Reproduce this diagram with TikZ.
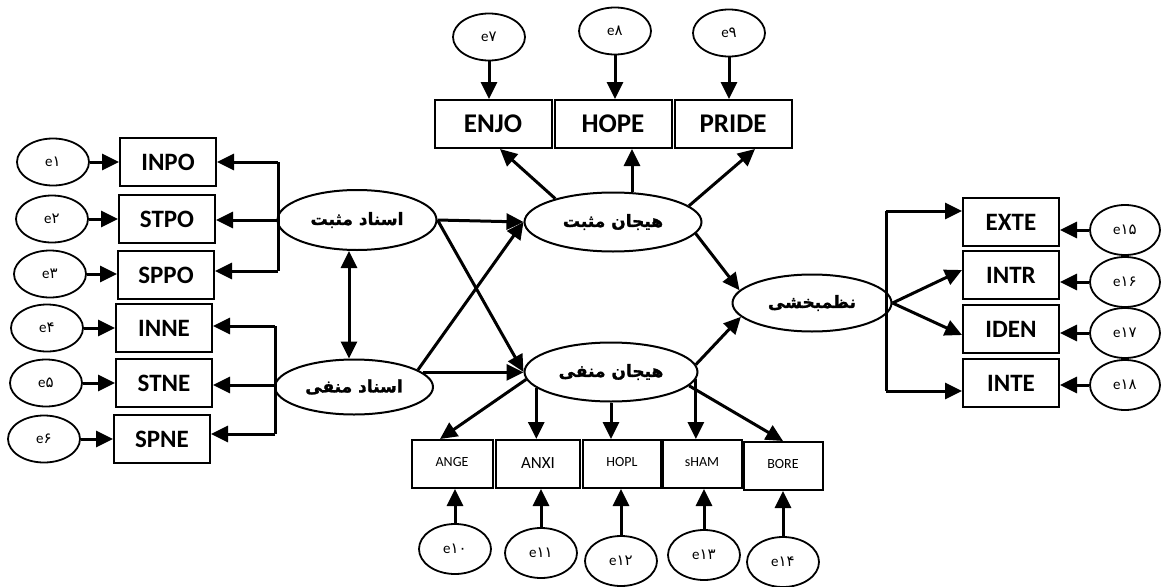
\documentclass[tikz,border=0pt]{standalone}
\usepackage{fontspec}
\setmainfont{Carlito}
\newfontfamily\fa[Script=Arabic,BoldFeatures={FakeBold=1.5}]{DejaVu Sans}
\newfontfamily\pdig{DejaVu Sans}
\TeXXeTstate=1
\usetikzlibrary{shapes.geometric,arrows.meta}
\newcommand\el[1]{e{\pdig #1}}
\newcommand\fatext[1]{{\fa\bfseries\beginR #1\endR}}
\begin{document}
\begin{tikzpicture}[x=1pt,y=-1pt,
  box/.style={draw,line width=2pt,minimum width=96pt,minimum height=48pt,inner sep=0pt,font=\fontsize{25}{27}\selectfont\bfseries},
  tbox/.style={box,minimum width=117pt,font=\fontsize{27}{29}\selectfont\bfseries},
  sbox/.style={draw,line width=2pt,minimum height=48pt,inner sep=0pt,font=\fontsize{14}{16}\selectfont},
  err/.style={draw,ellipse,line width=1.8pt,minimum width=72pt,minimum height=47pt,inner sep=0pt,font=\fontsize{15}{17}\selectfont},
  lat/.style={draw,ellipse,line width=2pt,inner sep=0pt,font=\fontsize{17}{19}\selectfont},
  arr/.style={-{Triangle[length=17pt,width=16pt]},line width=3pt},
  darr/.style={{Triangle[length=17pt,width=16pt]}-{Triangle[length=17pt,width=16pt]},line width=3pt},
  ln/.style={line width=3pt}]
\useasboundingbox (0,0) rectangle (1161,586);
% left errors
\node[err] (e1) at (53,162) {\el{۱}};
\node[err] (e2) at (52,219) {\el{۲}};
\node[err] (e3) at (50,274) {\el{۳}};
\node[err] (e4) at (47,328) {\el{۴}};
\node[err] (e5) at (46,383) {\el{۵}};
\node[err] (e6) at (44,439) {\el{۶}};
% left boxes
\node[box] (INPO) at (168,162) {INPO};
\node[box] (STPO) at (167,219) {STPO};
\node[box] (SPPO) at (166,275) {SPPO};
\node[box] (INNE) at (164,328) {INNE};
\node[box] (STNE) at (164,383) {STNE};
\node[box] (SPNE) at (162,439) {SPNE};
% latent
\node[lat,minimum width=159pt,minimum height=60pt] (am) at (357,220) {\fatext{اسناد مثبت}};
\node[lat,minimum width=158pt,minimum height=55pt] (an) at (354,387) {\fatext{اسناد منفی}};
\node[lat,minimum width=177pt,minimum height=59pt] (hm) at (613,222) {\fatext{هیجان مثبت}};
\node[lat,minimum width=173pt,minimum height=59pt] (hn) at (611,372) {\fatext{هیجان منفی}};
\node[lat,minimum width=159pt,minimum height=57pt] (nz) at (812,303) {\fatext{نظمبخشی}};
% top
\node[tbox] (ENJO) at (493,124) {ENJO};
\node[tbox] (HOPE) at (613,124) {HOPE};
\node[tbox] (PRIDE) at (733,124) {PRIDE};
\node[err] (e7) at (489,37) {\el{۷}};
\node[err] (e8) at (615,31) {\el{۸}};
\node[err] (e9) at (729,33) {\el{۹}};
% bottom
\node[sbox,minimum width=81pt] (ANGE) at (452,464) {\raisebox{4pt}{ANGE}};
\node[sbox,minimum width=84pt,font=\fontsize{17}{19}\selectfont] (ANXI) at (538,464) {\raisebox{2pt}{ANXI}};
\node[sbox,minimum width=78pt] (HOPL) at (622,464) {\raisebox{4pt}{HOPL}};
\node[sbox,minimum width=79pt] (sHAM) at (702,464) {\raisebox{4pt}{sHAM}};
\node[sbox,minimum width=79pt] (BORE) at (783,466) {\raisebox{4pt}{BORE}};
\node[err,minimum height=50pt] (e10) at (455,549) {\el{۱۰}};
\node[err,minimum height=50pt] (e11) at (541,553) {\el{۱۱}};
\node[err,minimum height=50pt] (e12) at (621,561) {\el{۱۲}};
\node[err,minimum height=50pt] (e13) at (704,555) {\el{۱۳}};
\node[err,minimum height=50pt] (e14) at (783,562) {\el{۱۴}};
% right
\node[box] (EXTE) at (1011,222) {EXTE};
\node[box] (INTR) at (1011,275) {INTR};
\node[box] (IDEN) at (1011,329) {IDEN};
\node[box] (INTE) at (1011,383) {INTE};
\node[err,minimum width=70pt,minimum height=50pt] (e15) at (1125,230) {\el{۱۵}};
\node[err,minimum width=70pt,minimum height=50pt] (e16) at (1125,282) {\el{۱۶}};
\node[err,minimum width=70pt,minimum height=50pt] (e17) at (1125,333) {\el{۱۷}};
\node[err,minimum width=70pt,minimum height=50pt] (e18) at (1125,385) {\el{۱۸}};
% left error arrows
\foreach \e/\b in {e1/INPO,e2/STPO,e3/SPPO,e4/INNE,e5/STNE,e6/SPNE}
  \draw[arr] (\e.east) -- (\e.east -| \b.west);
% left brackets
\coordinate (ut) at (278,162);
\coordinate (ub) at (278,271);
\coordinate (lt) at (275,326);
\coordinate (lb) at (275,434);
\draw[ln] (ut) -- (ub);
\draw[arr] (ut) -- (ut -| INPO.east);
\draw[arr] (am.west) -- (am.west -| STPO.east);
\draw[arr] (ub) -- (ub -| SPPO.east);
\draw[ln] (lt) -- (lb);
\draw[arr] (lt) -- (lt -| INNE.east);
\draw[arr] ([yshift=2pt]an.west) -- ([yshift=2pt]an.west -| STNE.east);
\draw[arr] (lb) -- (lb -| SPNE.east);
% between latents
\draw[darr] ([xshift=-8pt]am.south) -- ([xshift=-5pt]an.north);
\draw[arr] (am.east) -- (hm.west);
\draw[arr] (am.east) -- (hn.west);
\draw[arr] (an.15) -- (hm.west);
\draw[arr] (an.12) -- (an.12 -| hn.west);
\draw[arr] (hm.352) -- (nz.170);
\draw[arr] (hn.5) -- (nz.191);
% hm indicators
\draw[arr] (hm.158) -- ([xshift=7pt]ENJO.south);
\draw[arr] ([xshift=19pt]hm.north) -- ([xshift=19pt]HOPE.south);
\draw[arr] (hm.12) -- ([xshift=22pt]PRIDE.south);
\foreach \e/\b in {e7/ENJO,e8/HOPE,e9/PRIDE}
  \draw[arr] (\e.south) -- (\e.south |- \b.north);
% hn indicators
\draw[arr] (hn.185) -- ([xshift=-12pt]ANGE.north);
\draw[arr] (hn.192) -- (hn.192 |- ANXI.north);
\draw[arr] (hn.south) -- (hn.south |- HOPL.north);
\draw[arr] (hn.355) -- (hn.355 |- sHAM.north);
\draw[arr] (hn.350) -- (BORE.north);
\foreach \e/\b in {e10/ANGE,e11/ANXI,e12/HOPL,e13/sHAM,e14/BORE}
  \draw[arr] (\e.north) -- (\e.north |- \b.south);
% right
\coordinate (rt) at (886,211);
\coordinate (rb) at (886,391);
\draw[ln] (rt) -- (rb);
\draw[arr] (rt) -- (rt -| EXTE.west);
\draw[arr] (rb) -- (rb -| INTE.west);
\draw[arr] (nz.east) -- ([yshift=5pt]INTR.west);
\draw[arr] (nz.east) -- ([yshift=-6pt]IDEN.west);
\foreach \e/\b in {e15/EXTE,e16/INTR,e17/IDEN,e18/INTE}
  \draw[arr] (\e.west) -- (\e.west -| \b.east);
\end{tikzpicture}
\end{document}
